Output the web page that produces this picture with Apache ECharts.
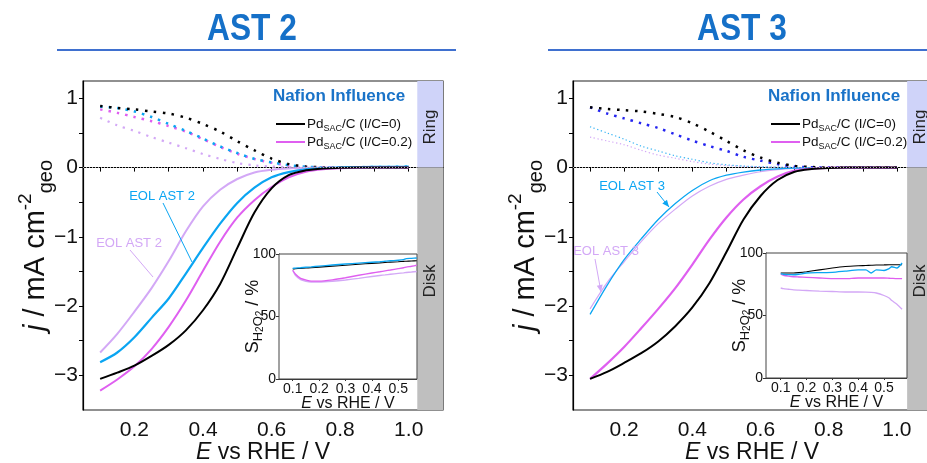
<!DOCTYPE html>
<html>
<head>
<meta charset="utf-8">
<title>RRDE AST 2 / AST 3</title>
<script src="https://cdn.jsdelivr.net/npm/echarts@6/dist/echarts.min.js"></script>
<style>
  html, body { margin: 0; padding: 0; background: #fff; }
  #chart { width: 927px; height: 463px; }
</style>
</head>
<body>
<div id="chart"></div>
<script>
// potential grid for the main RRDE curves (V vs RHE)
var E = [0.10, 0.15, 0.20, 0.25, 0.30, 0.35, 0.40, 0.45, 0.50, 0.55, 0.60, 0.65, 0.70, 0.75, 0.80, 0.85, 0.90, 0.95, 1.00];

// AST 2 - disk current (mA cm-2)
var disk2Black = [-3.05, -2.96, -2.86, -2.72, -2.56, -2.35, -2.06, -1.68, -1.16, -0.65, -0.30, -0.11, -0.04, -0.012, -0.004, 0, 0, 0, 0];
var disk2Mag   = [-3.22, -3.06, -2.87, -2.62, -2.30, -1.92, -1.49, -1.07, -0.72, -0.47, -0.28, -0.14, -0.06, -0.025, -0.01, -0.003, 0, 0, 0];
var disk2Blue  = [-2.81, -2.67, -2.45, -2.17, -1.89, -1.53, -1.16, -0.81, -0.51, -0.29, -0.14, -0.065, -0.025, -0.01, 0, 0.005, 0.01, 0.01, 0.015];
var disk2Lav   = [-2.67, -2.40, -2.08, -1.74, -1.35, -0.92, -0.56, -0.32, -0.165, -0.07, -0.03, -0.012, -0.004, 0, 0, 0, 0, 0, 0];
// AST 2 - ring current
var ring2Black = [0.89, 0.86, 0.84, 0.81, 0.78, 0.72, 0.63, 0.52, 0.38, 0.25, 0.13, 0.05, 0.015, 0.005, 0, 0, 0, 0, 0];
var ring2Mag   = [0.84, 0.79, 0.73, 0.67, 0.60, 0.52, 0.41, 0.30, 0.20, 0.125, 0.07, 0.03, 0.01, 0.003, 0, 0, 0, 0, 0];
var ring2Blue  = [0.88, 0.86, 0.81, 0.73, 0.63, 0.53, 0.42, 0.305, 0.21, 0.125, 0.075, 0.035, 0.012, 0.004, 0, 0.005, 0.01, 0.01, 0.015];
var ring2Lav   = [0.72, 0.61, 0.53, 0.44, 0.36, 0.28, 0.195, 0.125, 0.065, 0.032, 0.015, 0.006, 0.002, 0, 0, 0, 0, 0, 0];

// AST 3 - disk current
var disk3Black = [-3.05, -2.95, -2.82, -2.68, -2.51, -2.29, -2.02, -1.67, -1.22, -0.75, -0.41, -0.18, -0.06, -0.02, -0.005, 0, 0, 0, 0];
var disk3Mag   = [-3.05, -2.83, -2.59, -2.32, -2.04, -1.74, -1.40, -1.04, -0.72, -0.46, -0.27, -0.13, -0.045, -0.015, -0.004, 0, 0, 0, 0];
var disk3Blue  = [-2.12, -1.70, -1.33, -1.03, -0.75, -0.52, -0.33, -0.19, -0.11, -0.065, -0.035, -0.018, -0.008, -0.003, 0, 0, 0, 0, 0];
var disk3Lav   = [-2.04, -1.66, -1.36, -1.07, -0.81, -0.60, -0.41, -0.27, -0.17, -0.11, -0.06, -0.03, -0.012, -0.004, 0, 0, 0, 0, 0];
// AST 3 - ring current
var ring3Black = [0.87, 0.845, 0.83, 0.81, 0.775, 0.73, 0.64, 0.52, 0.385, 0.25, 0.145, 0.07, 0.025, 0.008, 0, 0, 0, 0, 0];
var ring3Blue  = [0.87, 0.78, 0.71, 0.64, 0.57, 0.48, 0.39, 0.31, 0.24, 0.155, 0.10, 0.05, 0.015, 0.005, 0, 0, 0, 0, 0];
var ring3Sky   = [0.59, 0.50, 0.41, 0.31, 0.24, 0.17, 0.12, 0.07, 0.04, 0.022, 0.012, 0.006, 0.002, 0, 0, 0, 0, 0, 0];
var ring3Lav   = [0.44, 0.385, 0.33, 0.25, 0.18, 0.135, 0.087, 0.05, 0.03, 0.018, 0.01, 0.005, 0.002, 0, 0, 0, 0, 0, 0];

// insets: H2O2 selectivity (%)
var Ein = [0.10, 0.11, 0.13, 0.15, 0.17, 0.20, 0.25, 0.30, 0.35, 0.40, 0.43, 0.45, 0.47, 0.50, 0.52, 0.53, 0.55, 0.57];
var sel2Black = [88, 88.2, 88.5, 88.8, 89, 89.5, 90.3, 91, 91.8, 92.5, 92.9, 93.2, 93.5, 93.8, 94.1, 94.2, 94.4, 94.6];
var sel2Blue  = [88.5, 88.7, 89, 89.4, 89.7, 90.3, 91.2, 92, 92.7, 93.4, 93.8, 94.2, 94.6, 95, 95.5, 96.3, 96.5, 96.8];
var sel2Mag   = [87, 84, 80.5, 79.2, 78.3, 78.3, 79.3, 81, 83, 84.8, 85.8, 86.5, 87.2, 88.3, 89, 89.5, 90.2, 91];
var sel2Lav   = [87, 83, 79.5, 78.2, 77.6, 77.6, 78.2, 79.2, 80.5, 82, 82.8, 83.3, 83.8, 84.5, 84.9, 85.2, 85.6, 86];
var sel3Black = [84, 84, 84, 84, 84.3, 85, 86.5, 88, 89.2, 89.8, 90, 90.2, 90.4, 90.5, 90.6, 90.6, 90.6, 90.6];
var sel3Blue  = [83.5, 83, 82.7, 82.6, 83, 84, 84.3, 84.5, 85.5, 86.5, 86.5, 84, 86.5, 86, 87.5, 89, 88, 92];
var sel3Mag   = [83, 82.2, 81.5, 81, 80.8, 80.5, 80, 79.5, 79.5, 80, 80, 80, 80, 80, 79.8, 79.7, 79.5, 79.5];
var sel3Lav   = [72, 71.5, 71, 70.5, 70.3, 70, 69.5, 69.2, 68.8, 68.8, 68.7, 68.5, 68, 66, 64, 62, 59, 55];

// ticks
var xTicks = [0.1, 0.2, 0.3, 0.4, 0.5, 0.6, 0.7, 0.8, 0.9, 1.0];
var xLabels = [0.2, 0.4, 0.6, 0.8, 1.0];
var yTicks = [-3, -2.5, -2, -1.5, -1, -0.5, 0, 0.5, 1];
var yLabels = [-3, -2, -1, 0, 1];
var inXTicks = [0.1, 0.2, 0.3, 0.4, 0.5];
var inYTicks = [0, 50, 100];

var FONT = "'Liberation Sans', Arial, sans-serif";
var BLACK = '#000', MAG = '#df5ff0', BLUE = '#0aa5f2', LAV = '#d3a8f6', DBLUE = '#2424f0', SKY = '#38b4f4';
var RING = '#cfd3f9', DISK = '#bfbfbf';

var chart = echarts.init(document.getElementById('chart'));

function pairs(x, y) {
  return x.map(function (v, i) { return [v, y[i]]; });
}
function line(name, idx, x, y, color, width, dash) {
  return {
    type: 'line', name: name, xAxisIndex: idx, yAxisIndex: idx,
    data: pairs(x, y), showSymbol: false, smooth: 0.3, silent: true,
    lineStyle: { color: color, width: width, type: dash || 'solid' },
    itemStyle: { color: color }
  };
}
function minus(v) {
  return v < 0 ? '\u2212' + Math.abs(v) : String(v);
}

function mainX(idx) {
  return {
    type: 'value', gridIndex: idx, min: 0.05, max: 1.1,
    name: '{i|E}{t| vs RHE / V}', nameLocation: 'middle', nameGap: 31, nameMoveOverlap: false,
    nameTextStyle: { fontFamily: FONT, color: '#111', rich: { i: { fontSize: 23, fontStyle: 'italic', fontFamily: FONT }, t: { fontSize: 23, fontFamily: FONT } } },
    axisLine: { lineStyle: { color: '#000', width: 1.2 } },
    axisTick: { customValues: xTicks, length: 4, lineStyle: { color: '#000' } },
    axisLabel: { customValues: xLabels, fontFamily: FONT, fontSize: 21, color: '#111', margin: 10, formatter: function (v) { return v.toFixed(1); } },
    splitLine: { show: false }
  };
}
function mainY(idx) {
  return {
    type: 'value', gridIndex: idx, min: -3.5, max: 1.25,
    name: '{i|j}{t| / mA cm}{sup|-2}{sub|geo}', nameLocation: 'middle', nameGap: 27, nameRotate: 90, nameMoveOverlap: false,
    nameTextStyle: { fontFamily: FONT, color: '#111', rich: {
      i: { fontSize: 29, fontStyle: 'italic', fontFamily: FONT, lineHeight: 40 },
      t: { fontSize: 29, fontFamily: FONT, lineHeight: 40 },
      sup: { fontSize: 19, fontFamily: FONT, lineHeight: 19, verticalAlign: 'top' },
      sub: { fontSize: 20, fontFamily: FONT, lineHeight: 20, verticalAlign: 'bottom' }
    } },
    axisLine: { lineStyle: { color: '#000', width: 1.2 } },
    axisTick: { customValues: yTicks, length: 4, lineStyle: { color: '#000' } },
    axisLabel: { customValues: yLabels, fontFamily: FONT, fontSize: 21, color: '#111', margin: 5, formatter: minus },
    splitLine: { show: false }
  };
}
function insetX(idx, min, max) {
  return {
    type: 'value', gridIndex: idx, min: min, max: max,
    name: '{i|E}{t| vs RHE / V}', nameLocation: 'middle', nameGap: 17, nameMoveOverlap: false,
    nameTextStyle: { fontFamily: FONT, color: '#111', rich: { i: { fontSize: 16, fontStyle: 'italic', fontFamily: FONT }, t: { fontSize: 16, fontFamily: FONT } } },
    axisLine: { lineStyle: { color: '#333' } },
    axisTick: { customValues: inXTicks, length: 2, lineStyle: { color: '#333' } },
    axisLabel: { customValues: inXTicks, fontFamily: FONT, fontSize: 14, color: '#111', margin: 3, formatter: function (v) { return v.toFixed(1); } },
    splitLine: { show: false }
  };
}
function insetY(idx) {
  return {
    type: 'value', gridIndex: idx, min: 0, max: 100,
    name: '{t|S}{s|H}{ss|2}{s|O}{ss|2}{t| / %}', nameLocation: 'middle', nameGap: 14, nameRotate: 90, nameMoveOverlap: false,
    nameTextStyle: { fontFamily: FONT, color: '#111', rich: {
      t: { fontSize: 18, fontFamily: FONT, lineHeight: 24 },
      s: { fontSize: 13, fontFamily: FONT, lineHeight: 17, verticalAlign: 'bottom' },
      ss: { fontSize: 10, fontFamily: FONT, lineHeight: 10, verticalAlign: 'bottom' }
    } },
    axisLine: { lineStyle: { color: '#333' } },
    axisTick: { customValues: inYTicks, length: 3, lineStyle: { color: '#333' } },
    axisLabel: { customValues: inYTicks, fontFamily: FONT, fontSize: 14, color: '#111', margin: 3 },
    splitLine: { show: false }
  };
}

// Ring / Disk background bands and the dotted zero line, on each main grid
function bands(idx, x0) {
  return {
    type: 'line', xAxisIndex: idx, yAxisIndex: idx, data: [], silent: true, z: 1,
    markArea: { silent: true, data: [
      [{ coord: [x0, 0], itemStyle: { color: RING } }, { coord: [1.1, 1.25] }],
      [{ coord: [x0, -3.5], itemStyle: { color: DISK } }, { coord: [1.1, 0] }]
    ] },
    markLine: { silent: true, symbol: 'none', label: { show: false },
      lineStyle: { color: '#b0b0b0', width: 1.2, type: [1, 2] },
      data: [[{ coord: [0.05, 0] }, { coord: [x0, 0] }]] }
  };
}

var series = [
  bands(0, 1.025), bands(1, 1.03),
  // AST 2 ring (dotted)
  line('r2lav', 0, E, ring2Lav, LAV, 2.2, [2.2, 6]),
  line('r2mag', 0, E, ring2Mag, MAG, 2.5, [2.5, 6]),
  line('r2blue', 0, E, ring2Blue, BLUE, 2.5, [2.5, 6]),
  line('r2black', 0, E, ring2Black, BLACK, 2.5, [2.5, 6.5]),
  // AST 2 disk
  line('d2lav', 0, E, disk2Lav, LAV, 2),
  line('d2blue', 0, E, disk2Blue, BLUE, 2.2),
  line('I/C=0.2', 0, E, disk2Mag, MAG, 2),
  line('I/C=0', 0, E, disk2Black, BLACK, 2),
  // AST 3 ring
  line('r3lav', 1, E, ring3Lav, LAV, 1.2, [1.3, 2.5]),
  line('r3sky', 1, E, ring3Sky, SKY, 1.2, [1.3, 2.5]),
  line('r3blue', 1, E, ring3Blue, DBLUE, 2.5, [2.5, 6]),
  line('r3black', 1, E, ring3Black, BLACK, 2.5, [2.5, 6.5]),
  // AST 3 disk
  line('d3lav', 1, E, disk3Lav, LAV, 1.2),
  line('d3blue', 1, E, disk3Blue, BLUE, 1.3),
  line('I/C=0.2', 1, E, disk3Mag, MAG, 2.2),
  line('I/C=0', 1, E, disk3Black, BLACK, 2),
  // insets
  line('s2lav', 2, Ein, sel2Lav, LAV, 1.3),
  line('s2mag', 2, Ein, sel2Mag, MAG, 1.3),
  line('s2black', 2, Ein, sel2Black, BLACK, 1.1),
  line('s2blue', 2, Ein, sel2Blue, BLUE, 1.3),
  line('s3lav', 3, Ein, sel3Lav, LAV, 1.3),
  line('s3mag', 3, Ein, sel3Mag, MAG, 1.3),
  line('s3black', 3, Ein, sel3Black, BLACK, 1.1),
  line('s3blue', 3, Ein, sel3Blue, BLUE, 1.3)
];
series.forEach(function (s) { if (s.xAxisIndex >= 2) s.smooth = 0.2; });

function legendAt(left) {
  return {
    data: ['I/C=0', 'I/C=0.2'], orient: 'vertical', left: left, top: 112,
    icon: 'rect', itemWidth: 29, itemHeight: 2, itemGap: 2, selectedMode: false,
    formatter: function (n) { return '{t|Pd}{s|SAC}{t|/C (' + n + ')}'; },
    textStyle: { fontFamily: FONT, color: '#111', padding: [0, 0, 0, -3], rich: {
      t: { fontSize: 13.5, fontFamily: FONT, lineHeight: 18 },
      s: { fontSize: 9, fontFamily: FONT, lineHeight: 9, verticalAlign: 'bottom' }
    } }
  };
}

function arrow(x1, y1, x2, y2, color) {
  var a = Math.atan2(y2 - y1, x2 - x1), L = 7, W = 3;
  return [
    { type: 'line', z: 100, shape: { x1: x1, y1: y1, x2: x2, y2: y2 }, style: { stroke: color, lineWidth: 1 } },
    { type: 'polygon', z: 100, shape: { points: [[x2, y2],
      [x2 - L * Math.cos(a) + W * Math.sin(a), y2 - L * Math.sin(a) - W * Math.cos(a)],
      [x2 - L * Math.cos(a) - W * Math.sin(a), y2 - L * Math.sin(a) + W * Math.cos(a)]] },
      style: { fill: color } }
  ];
}
function txt(x, y, s, size, color, weight, extra) {
  var el = { type: 'text', z: 100, x: x, y: y, style: { text: s, fontFamily: FONT, fontSize: size, fontWeight: weight || 'normal', fill: color, align: 'center', verticalAlign: 'middle' } };
  if (extra) { for (var k in extra) el[k] = extra[k]; }
  return el;
}

var graphics = [
  txt(252, 30, 'AST 2', 36, '#1570c8', 'bold', { scaleX: 0.88 }),
  txt(742, 30, 'AST 3', 36, '#1570c8', 'bold', { scaleX: 0.88 }),
  { type: 'line', z: 100, shape: { x1: 57, y1: 50, x2: 456, y2: 50 }, style: { stroke: '#3f70cf', lineWidth: 2 } },
  { type: 'line', z: 100, shape: { x1: 548, y1: 50, x2: 927, y2: 50 }, style: { stroke: '#3f70cf', lineWidth: 2 } },
  txt(339, 96, 'Nafion Influence', 17, '#1a73c8', 'bold'),
  txt(834, 96, 'Nafion Influence', 17, '#1a73c8', 'bold'),
  txt(430, 127, 'Ring', 17, '#222', 'normal', { rotation: Math.PI / 2 }),
  txt(430, 281, 'Disk', 17, '#222', 'normal', { rotation: Math.PI / 2 }),
  txt(920, 127, 'Ring', 17, '#222', 'normal', { rotation: Math.PI / 2 }),
  txt(920, 281, 'Disk', 17, '#222', 'normal', { rotation: Math.PI / 2 }),
  txt(162, 196, 'EOL AST 2', 13, BLUE),
  { type: 'line', z: 100, shape: { x1: 163, y1: 203, x2: 192, y2: 262 }, style: { stroke: BLUE, lineWidth: 1 } },
  txt(129, 243, 'EOL AST 2', 13, LAV),
  { type: 'line', z: 100, shape: { x1: 130, y1: 250, x2: 153, y2: 277 }, style: { stroke: LAV, lineWidth: 1 } },
  txt(632, 186, 'EOL AST 3', 13, BLUE),
  txt(606, 251, 'EOL AST 3', 13, LAV)
].concat(arrow(657, 192, 669, 207, BLUE)).concat(arrow(595, 259, 601, 292, LAV));

var gridBase = { show: true, outerBoundsMode: 'none', containLabel: false };
function grid(o) { var g = {}; for (var k in gridBase) g[k] = gridBase[k]; for (var j in o) g[j] = o[j]; return g; }

chart.setOption({
  animation: false,
  backgroundColor: '#fff',
  grid: [
    grid({ left: 83, top: 81, width: 360, height: 329, borderColor: '#222', borderWidth: 1.2 }),
    grid({ left: 573, top: 81, width: 358, height: 329, borderColor: '#222', borderWidth: 1.2 }),
    grid({ left: 279, top: 254, width: 138, height: 125, backgroundColor: '#fff', borderColor: '#444', borderWidth: 1, z: 3 }),
    grid({ left: 766, top: 253, width: 141, height: 125, backgroundColor: '#fff', borderColor: '#444', borderWidth: 1, z: 3 })
  ],
  xAxis: [mainX(0), mainX(1), insetX(2, 0.048, 0.571), insetX(3, 0.043, 0.589)],
  yAxis: [mainY(0), mainY(1), insetY(2), insetY(3)],
  legend: [legendAt(271), legendAt(766)],
  series: series,
  graphic: graphics
});
</script>
</body>
</html>
